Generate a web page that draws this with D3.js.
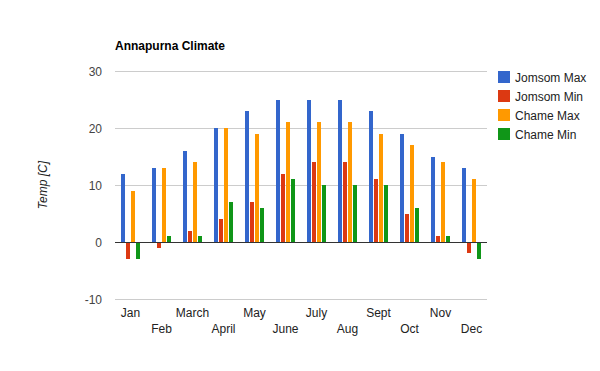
<!DOCTYPE html>
<html>
<head>
<meta charset="utf-8">
<script src="https://cdn.jsdelivr.net/npm/d3@7"></script>
<style>
  html, body { margin: 0; padding: 0; background: #fff; }
  svg { display: block; font-family: "Liberation Sans", Arial, sans-serif; }
</style>
</head>
<body>
<div id="chart"></div>
<script>
const months = ["Jan","Feb","March","April","May","June","July","Aug","Sept","Oct","Nov","Dec"];
const seriesNames = ["Jomsom Max","Jomsom Min","Chame Max","Chame Min"];
const jomsomMax = [12, 13, 16, 20, 23, 25, 25, 25, 23, 19, 15, 13];
const jomsomMin = [-3, -1, 2, 4, 7, 12, 14, 14, 11, 5, 1, -2];
const chameMax  = [9, 13, 14, 20, 19, 21, 21, 21, 19, 17, 14, 11];
const chameMin  = [-3, 1, 1, 7, 6, 11, 10, 10, 10, 6, 1, -3];
const yTicks = [-10, 0, 10, 20, 30];
const colors = ["#3366cc", "#dc3912", "#ff9900", "#109618"];

const seriesValues = [jomsomMax, jomsomMin, chameMax, chameMin];

const W = 600, H = 371;
const plot = { left: 115, right: 487, top: 71, bottom: 299 };

const svg = d3.select("#chart").append("svg").attr("width", W).attr("height", H);

const x0 = d3.scaleBand().domain(months).range([plot.left, plot.right]).paddingInner(0.38).paddingOuter(0.19);
const x1 = d3.scaleBand().domain(seriesNames).range([0, x0.bandwidth()]).paddingInner(0.2);
const y = d3.scaleLinear().domain([-10, 30]).range([plot.bottom, plot.top]);

// Title
svg.append("text").attr("x", 115).attr("y", 50)
  .attr("font-size", 12).attr("font-weight", "bold").attr("fill", "#000")
  .text("Annapurna Climate");

// Gridlines
svg.append("g").selectAll("line").data(yTicks.filter(t => t !== 0)).join("line")
  .attr("x1", plot.left).attr("x2", plot.right)
  .attr("y1", d => Math.round(y(d)) + 0.5).attr("y2", d => Math.round(y(d)) + 0.5)
  .attr("stroke", "#cccccc").attr("stroke-width", 1);

// Y tick labels
svg.append("g").selectAll("text").data(yTicks).join("text")
  .attr("x", 102).attr("y", d => y(d) + 4.5)
  .attr("text-anchor", "end").attr("font-size", 12).attr("fill", "#444")
  .text(d => d);

// Y title
svg.append("text")
  .attr("transform", `translate(47,${(plot.top + plot.bottom) / 2}) rotate(-90)`)
  .attr("text-anchor", "middle").attr("font-size", 12).attr("font-style", "italic").attr("fill", "#222")
  .text("Temp [C]");

// Bars
const groups = svg.append("g").selectAll("g").data(months).join("g")
  .attr("transform", d => `translate(${x0(d)},0)`);
groups.selectAll("rect").data((m, i) => seriesNames.map((s, j) => ({ s, v: seriesValues[j][i], c: colors[j] })))
  .join("rect")
  .attr("x", d => x1(d.s))
  .attr("width", x1.bandwidth())
  .attr("y", d => Math.min(y(d.v), y(0)))
  .attr("height", d => Math.abs(y(d.v) - y(0)))
  .attr("fill", d => d.c)
  .attr("shape-rendering", "crispEdges");

// Zero baseline
svg.append("line")
  .attr("x1", plot.left).attr("x2", plot.right)
  .attr("y1", Math.round(y(0)) + 0.5).attr("y2", Math.round(y(0)) + 0.5)
  .attr("stroke", "#333333").attr("stroke-width", 1);

// X labels, alternating rows
svg.append("g").selectAll("text").data(months).join("text")
  .attr("x", d => x0(d) + x0.bandwidth() / 2)
  .attr("y", (d, i) => i % 2 === 0 ? 317 : 333)
  .attr("text-anchor", "middle").attr("font-size", 12).attr("fill", "#222")
  .text(d => d);

// Legend
const leg = svg.append("g").selectAll("g").data(seriesNames).join("g")
  .attr("transform", (d, i) => `translate(498,${71 + i * 19})`);
leg.append("rect").attr("width", 12).attr("height", 12).attr("fill", (d, i) => colors[i]);
leg.append("text").attr("x", 17).attr("y", 10.5).attr("font-size", 12).attr("fill", "#222").text(d => d);
</script>
</body>
</html>
